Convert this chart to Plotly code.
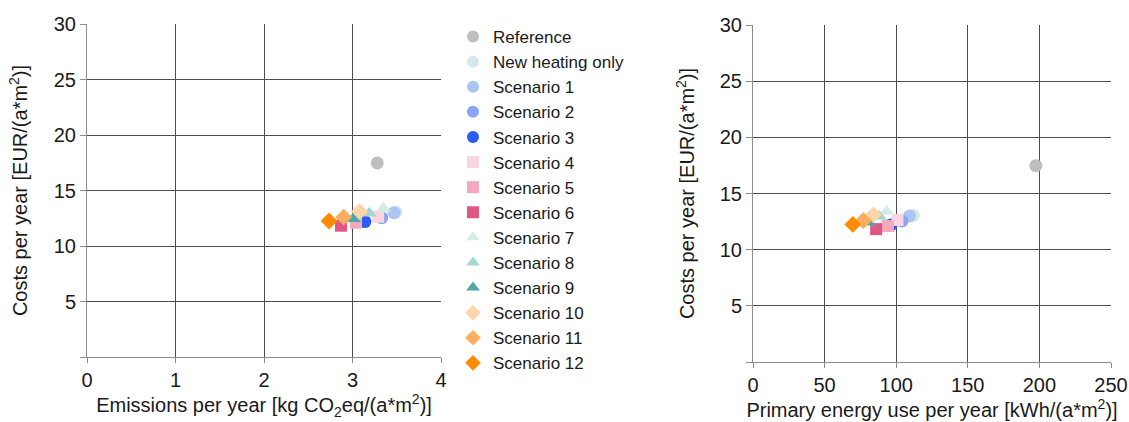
import plotly.graph_objects as go

series_names = ["Reference", "New heating only", "Scenario 1", "Scenario 2", "Scenario 3",
                "Scenario 4", "Scenario 5", "Scenario 6", "Scenario 7", "Scenario 8",
                "Scenario 9", "Scenario 10", "Scenario 11", "Scenario 12"]
emissions = [3.28, 3.49, 3.47, 3.33, 3.14, 3.29, 3.04, 2.87, 3.35, 3.19, 3.01, 3.08, 2.90, 2.735]
primary_energy = [197.5, 112.0, 109.3, 104.0, 96.3, 100.9, 94.2, 86.0, 93.5, 88.3, 81.0, 84.1, 77.1, 69.7]
costs = [17.48, 13.05, 13.0, 12.55, 12.2, 12.65, 12.1, 11.83, 13.4, 12.95, 12.45, 13.1, 12.6, 12.25]

colors = ["#bfbfbf", "#d2e8ea", "#adc5f2", "#8aa4f6", "#2b5cf6",
          "#fbd6df", "#f4a9bf", "#e05687", "#d6ebe7", "#a8d7d2",
          "#4ba9a6", "#fed5a9", "#fdad5f", "#ff8c00"]
symbols = ["circle", "circle", "circle", "circle", "circle",
           "square", "square", "square",
           "triangle-up", "triangle-up", "triangle-up",
           "diamond", "diamond", "diamond"]
sizes = [13, 13, 13, 13, 13, 12, 12, 12, 13, 13, 13, 13, 13, 13]

x_ticks_left = [0, 1, 2, 3, 4]
x_ticks_right = [0, 50, 100, 150, 200, 250]
y_ticks = [0, 5, 10, 15, 20, 25, 30]
y_tick_labels = ["", "5", "10", "15", "20", "25", "30"]

fig = go.Figure()
for i, name in enumerate(series_names):
    mk = dict(color=colors[i], symbol=symbols[i], size=sizes[i], line=dict(width=0))
    fig.add_trace(go.Scatter(x=[emissions[i]], y=[costs[i]], mode="markers", name=name,
                             marker=mk, xaxis="x", yaxis="y", legendgroup=name, showlegend=True))
    fig.add_trace(go.Scatter(x=[primary_energy[i]], y=[costs[i]], mode="markers", name=name,
                             marker=mk, xaxis="x2", yaxis="y2", legendgroup=name, showlegend=False))

W, H = 1129, 422
grid = "#4d4d4d"
axline = "#8c8c8c"
FONT = "Liberation Sans, Arial, sans-serif"
tickfont = dict(family=FONT, size=20, color="#1a1a1a")
titlefont = dict(family=FONT, size=20, color="#1a1a1a")

common_x = dict(showgrid=True, gridcolor=grid, gridwidth=1, showline=True, linecolor=axline,
                linewidth=1, ticks="outside", ticklen=5, tickcolor=axline, tickfont=tickfont,
                zeroline=False, automargin=False, fixedrange=True)
common_y = dict(showgrid=True, gridcolor=grid, gridwidth=1, showline=True, linecolor=axline,
                linewidth=1, ticks="outside", ticklen=6, tickcolor=axline, tickfont=tickfont,
                zeroline=False, automargin=False, range=[0, 30], tickvals=y_ticks,
                ticktext=y_tick_labels, fixedrange=True)

fig.update_layout(
    width=W, height=H,
    margin=dict(l=0, r=0, t=0, b=0),
    paper_bgcolor="white", plot_bgcolor="white",
    font=dict(family=FONT, color="#1a1a1a"),
    xaxis=dict(common_x, domain=[87 / W, 441 / W], range=[0, 4], tickvals=x_ticks_left,
               title=dict(text="Emissions per year [kg CO<sub>2</sub>eq/(a*m<sup>2</sup>)]",
                          font=titlefont, standoff=3), anchor="y"),
    yaxis=dict(common_y, domain=[1 - 357 / H, 1 - 24 / H], anchor="x",
               title=dict(text="Costs per year [EUR/(a*m<sup>2</sup>)]", font=titlefont, standoff=20)),
    xaxis2=dict(common_x, domain=[753 / W, 1111 / W], range=[0, 250], tickvals=x_ticks_right,
                title=dict(text="Primary energy use per year [kWh/(a*m<sup>2</sup>)]",
                           font=titlefont, standoff=4), anchor="y2"),
    yaxis2=dict(common_y, domain=[1 - 362 / H, 1 - 25 / H], anchor="x2",
                title=dict(text="Costs per year [EUR/(a*m<sup>2</sup>)]", font=titlefont, standoff=19)),
    legend=dict(x=453 / W, y=1 - 19 / H, xanchor="left", yanchor="top",
                font=dict(family=FONT, size=17, color="#1a1a1a"),
                bgcolor="rgba(0,0,0,0)", tracegroupgap=0, itemsizing="constant"),
    showlegend=True,
)

fig.write_html("out.html", config={"displayModeBar": False},
               post_script="document.body.style.margin='0';document.body.style.overflow='hidden';")
